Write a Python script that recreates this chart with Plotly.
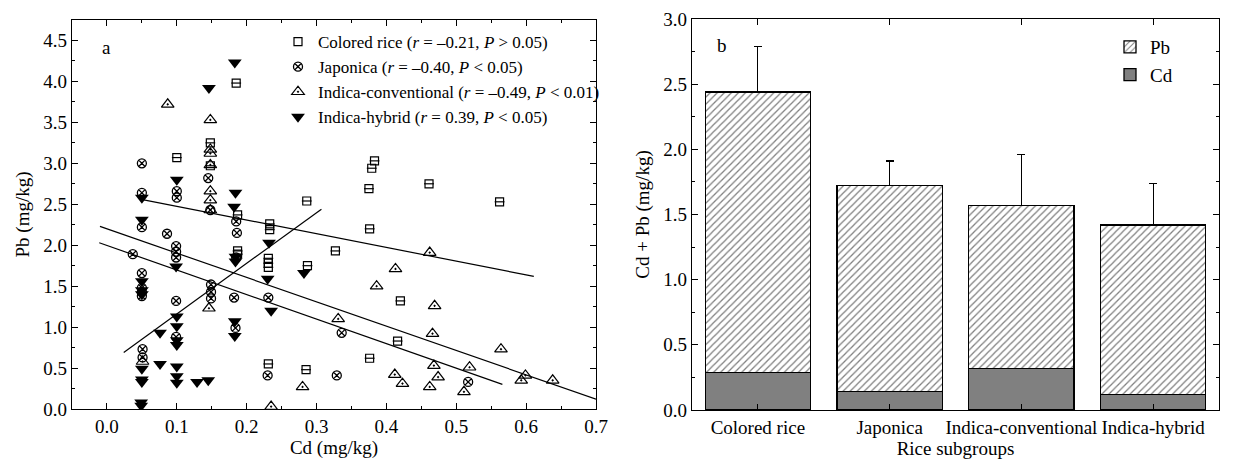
import plotly.graph_objects as go

# ---------------- Data: scatter (a) ----------------
colored_cd = [0.100, 0.148, 0.148, 0.185, 0.187, 0.233, 0.233, 0.286, 0.383, 0.379, 0.375, 0.461,
              0.562, 0.376, 0.327, 0.287, 0.420, 0.416, 0.376, 0.285, 0.231, 0.231, 0.231, 0.187,
              0.187, 0.231]
colored_pb = [3.07, 3.25, 2.97, 3.98, 2.37, 2.26, 2.19, 2.54, 3.03, 2.94, 2.69, 2.75,
              2.53, 2.20, 1.93, 1.75, 1.32, 0.83, 0.62, 0.48, 1.84, 1.78, 1.73, 1.93,
              1.89, 0.55]

japonica_cd = [0.05, 0.05, 0.10, 0.10, 0.145, 0.148, 0.185, 0.186, 0.05, 0.086, 0.037, 0.099,
               0.099, 0.099, 0.05, 0.05, 0.05, 0.05, 0.099, 0.149, 0.149, 0.149, 0.182, 0.184,
               0.051, 0.051, 0.099, 0.231, 0.230, 0.336, 0.329, 0.517, 0.185]
japonica_pb = [3.00, 2.64, 2.66, 2.58, 2.82, 2.43, 2.29, 2.15, 2.22, 2.14, 1.89, 1.99,
               1.92, 1.85, 1.66, 1.48, 1.43, 1.38, 1.32, 1.52, 1.43, 1.35, 1.36, 0.99,
               0.73, 0.63, 0.88, 1.36, 0.41, 0.93, 0.41, 0.33, 1.85]

conv_cd = [0.087, 0.148, 0.148, 0.148, 0.148, 0.148, 0.148, 0.148, 0.146, 0.051, 0.280, 0.235,
           0.462, 0.413, 0.386, 0.469, 0.331, 0.466, 0.468, 0.412, 0.474, 0.423, 0.462, 0.564,
           0.519, 0.599, 0.593, 0.638, 0.511]
conv_pb = [3.72, 3.53, 3.17, 3.12, 2.98, 2.66, 2.55, 2.43, 1.23, 0.58, 0.27, 0.03,
           1.91, 1.71, 1.50, 1.26, 1.10, 0.92, 0.53, 0.42, 0.39, 0.31, 0.27, 0.73,
           0.51, 0.41, 0.35, 0.35, 0.21]

hybrid_cd = [0.183, 0.146, 0.100, 0.184, 0.182, 0.05, 0.05, 0.099, 0.05, 0.05, 0.05, 0.232,
             0.230, 0.235, 0.282, 0.184, 0.184, 0.183, 0.183, 0.10, 0.10, 0.10, 0.10, 0.076,
             0.076, 0.05, 0.05, 0.05, 0.10, 0.10, 0.10, 0.129, 0.145, 0.049, 0.049]
hybrid_pb = [4.23, 3.92, 2.80, 2.64, 2.47, 2.58, 2.31, 1.74, 1.56, 1.45, 1.40, 2.03,
             1.59, 1.20, 1.66, 1.86, 1.80, 1.07, 0.89, 1.13, 1.01, 0.84, 0.78, 0.93,
             0.55, 0.49, 0.36, 0.33, 0.52, 0.40, 0.32, 0.33, 0.35, 0.08, 0.04]

# fitted regression lines (end points)
fit_colored_x = [0.049, 0.611]
fit_colored_y = [2.56, 1.62]
fit_japonica_x = [-0.011, 0.566]
fit_japonica_y = [2.03, 0.30]
fit_conv_x = [-0.010, 0.700]
fit_conv_y = [2.23, 0.12]
fit_hybrid_x = [0.024, 0.307]
fit_hybrid_y = [0.69, 2.44]

# ---------------- Data: bars (b) ----------------
groups = ["Colored rice", "Japonica", "Indica-conventional", "Indica-hybrid"]
cd_mean = [0.29, 0.14, 0.32, 0.12]
pb_mean = [2.15, 1.58, 1.25, 1.30]
cd_err = [0.02, 0.02, 0.06, 0.02]
total_err = [0.35, 0.19, 0.39, 0.32]

FONT = "Liberation Serif"

fig = go.Figure()

legend_names = [
    "Colored rice (<i>r</i> = \u20130.21, <i>P</i> > 0.05)",
    "Japonica (<i>r</i> = \u20130.40, <i>P</i> < 0.05)",
    "Indica-conventional (<i>r</i> = \u20130.49, <i>P</i> < 0.01)",
    "Indica-hybrid (<i>r</i> = 0.39, <i>P</i> < 0.05)",
]

fig.add_trace(go.Scatter(x=colored_cd, y=colored_pb, mode="markers", name=legend_names[0],
                         marker=dict(symbol="square-open", size=8, color="black", line=dict(width=1.2)),
                         xaxis="x", yaxis="y", legend="legend"))
fig.add_trace(go.Scatter(x=colored_cd, y=colored_pb, mode="markers", showlegend=False, hoverinfo="skip",
                         marker=dict(symbol="line-ew", size=7, color="black", line=dict(width=1.2, color="black")),
                         xaxis="x", yaxis="y"))
fig.add_trace(go.Scatter(x=japonica_cd, y=japonica_pb, mode="markers", name=legend_names[1],
                         marker=dict(symbol="circle-x-open", size=9, color="black", line=dict(width=1.3)),
                         xaxis="x", yaxis="y", legend="legend"))
fig.add_trace(go.Scatter(x=conv_cd, y=conv_pb, mode="markers", name=legend_names[2],
                         marker=dict(symbol="triangle-up-open-dot", size=11, color="black", line=dict(width=1.2)),
                         xaxis="x", yaxis="y", legend="legend"))
fig.add_trace(go.Scatter(x=hybrid_cd, y=hybrid_pb, mode="markers", name=legend_names[3],
                         marker=dict(symbol="triangle-down", size=12, color="black", line=dict(width=0)),
                         xaxis="x", yaxis="y", legend="legend"))

for fx, fy in [(fit_colored_x, fit_colored_y), (fit_japonica_x, fit_japonica_y),
               (fit_conv_x, fit_conv_y), (fit_hybrid_x, fit_hybrid_y)]:
    fig.add_trace(go.Scatter(x=fx, y=fy, mode="lines", showlegend=False, hoverinfo="skip",
                             line=dict(color="black", width=1.2), xaxis="x", yaxis="y"))

# ---------------- Bars ----------------
fig.add_trace(go.Bar(x=groups, y=cd_mean, name="Cd", width=0.8,
                     marker=dict(color="#808080", line=dict(color="black", width=1.3)),
                     error_y=dict(type="data", symmetric=False, array=cd_err, arrayminus=[0] * 4,
                                  color="black", thickness=1.2, width=4),
                     xaxis="x2", yaxis="y2", legend="legend2", legendrank=2))
fig.add_trace(go.Bar(x=groups, y=pb_mean, name="Pb", width=0.8,
                     marker=dict(color="white", line=dict(color="black", width=1.3),
                                 pattern=dict(shape="/", fgcolor="black", bgcolor="white",
                                              size=5, solidity=0.25)),
                     error_y=dict(type="data", symmetric=False, array=total_err, arrayminus=[0] * 4,
                                  color="black", thickness=1.2, width=4),
                     xaxis="x2", yaxis="y2", legend="legend2", legendrank=1))

axis_common = dict(showline=True, linecolor="black", linewidth=1.3, mirror="ticks",
                   ticks="inside", ticklen=6, tickcolor="black", tickwidth=1.2,
                   showgrid=False, zeroline=False, automargin=False,
                   tickfont=dict(family=FONT, size=19, color="black"))

fig.update_layout(
    width=1245, height=460,
    margin=dict(l=0, r=0, t=0, b=0),
    paper_bgcolor="white", plot_bgcolor="white",
    font=dict(family=FONT, color="black"),
    barmode="stack",
    xaxis=dict(domain=[72 / 1245, 596 / 1245], range=[-0.05, 0.7], dtick=0.1, tick0=0,
               tickformat=".1f", anchor="y",
               minor=dict(dtick=0.05, ticks="inside", ticklen=3, tickcolor="black"),
               title=dict(text="Cd (mg/kg)", font=dict(family=FONT, size=19), standoff=4),
               **axis_common),
    yaxis=dict(domain=[51 / 460, 440 / 460], range=[0, 4.75], dtick=0.5, tick0=0,
               tickformat=".1f", anchor="x",
               minor=dict(dtick=0.25, ticks="inside", ticklen=3, tickcolor="black"),
               title=dict(text="Pb (mg/kg)", font=dict(family=FONT, size=19), standoff=8),
               **axis_common),
    xaxis2=dict(domain=[692 / 1245, 1219 / 1245], range=[-0.5, 3.5], anchor="y2",
                title=dict(text="Rice subgroups", font=dict(family=FONT, size=19), standoff=2),
                **axis_common),
    yaxis2=dict(domain=[50 / 460, 441 / 460], range=[0, 3.0], dtick=0.5, tick0=0,
                tickformat=".1f", anchor="x2",
                minor=dict(dtick=0.25, ticks="inside", ticklen=3, tickcolor="black"),
                title=dict(text="Cd + Pb (mg/kg)", font=dict(family=FONT, size=19), standoff=8),
                **axis_common),
    legend=dict(x=278 / 1245, y=1 - 24 / 460, xanchor="left", yanchor="top",
                font=dict(family=FONT, size=17, color="black"), bgcolor="rgba(0,0,0,0)",
                tracegroupgap=0, itemwidth=30),
    legend2=dict(x=1110 / 1245, y=1 - 28 / 460, xanchor="left", yanchor="top",
                 font=dict(family=FONT, size=19, color="black"), bgcolor="rgba(0,0,0,0)",
                 traceorder="normal"),
    annotations=[
        dict(text="a", x=106 / 1245, y=1 - 48 / 460, xref="paper", yref="paper", showarrow=False,
             xanchor="center", yanchor="middle",
             font=dict(family=FONT, size=19, color="black")),
        dict(text="b", x=722 / 1245, y=1 - 46 / 460, xref="paper", yref="paper", showarrow=False,
             xanchor="center", yanchor="middle",
             font=dict(family=FONT, size=19, color="black")),
    ],
)

fig.write_html("out.html")
